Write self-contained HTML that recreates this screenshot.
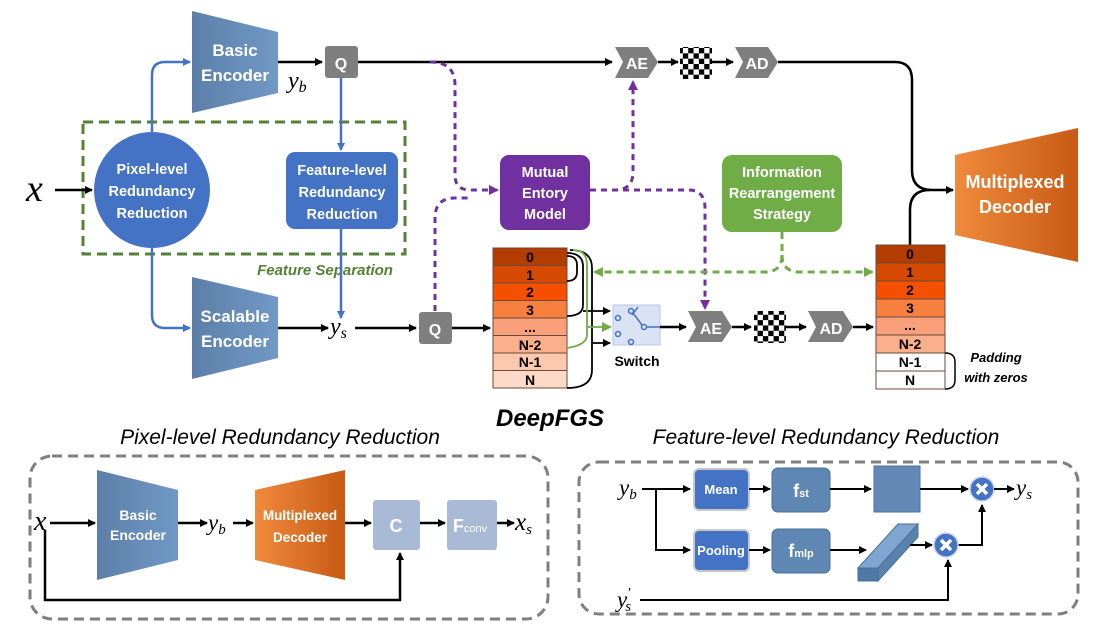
<!DOCTYPE html>
<html><head><meta charset="utf-8"><style>
html,body{margin:0;padding:0;background:#fff;}
svg{display:block;font-family:"Liberation Sans",sans-serif;}
.w{fill:#fff;font-weight:bold;text-anchor:middle;}
.m{font-family:"Liberation Serif",serif;font-style:italic;}
</style></head><body>
<svg width="1112" height="636" viewBox="0 0 1112 636" xmlns="http://www.w3.org/2000/svg">
<defs>
<marker id="ak" markerWidth="8" markerHeight="8" refX="7" refY="4" orient="auto" markerUnits="userSpaceOnUse"><path d="M0,0 L8,4 L0,8z" fill="#000"/></marker>
<marker id="ab" markerWidth="8" markerHeight="8" refX="7" refY="4" orient="auto" markerUnits="userSpaceOnUse"><path d="M0,0 L8,4 L0,8z" fill="#4472c4"/></marker>
<marker id="ap" markerWidth="10" markerHeight="10" refX="8" refY="5" orient="auto" markerUnits="userSpaceOnUse"><path d="M0,0 L10,5 L0,10z" fill="#7030a0"/></marker>
<marker id="ag" markerWidth="10" markerHeight="10" refX="8" refY="5" orient="auto" markerUnits="userSpaceOnUse"><path d="M0,0 L10,5 L0,10z" fill="#70ad47"/></marker>
<linearGradient id="enc" x1="0" x2="1"><stop offset="0" stop-color="#5b7fa8"/><stop offset="1" stop-color="#7199c6"/></linearGradient>
<linearGradient id="dec" x1="0" x2="1"><stop offset="0" stop-color="#f08a3c"/><stop offset="1" stop-color="#c85a14"/></linearGradient>
<pattern id="chk" width="10.67" height="10.67" patternUnits="userSpaceOnUse"><rect width="5.33" height="5.33" fill="#000"/><rect x="5.33" y="5.33" width="5.33" height="5.33" fill="#000"/></pattern>
</defs>

<rect x="83" y="122" width="322" height="132" fill="none" stroke="#548235" stroke-width="3" stroke-dasharray="10,6"/>
<text x="325" y="275" fill="#548235" font-size="15" font-weight="bold" font-style="italic" text-anchor="middle">Feature Separation</text>

<path d="M152,132 V75 Q152,62 165,62 H190" fill="none" stroke="#4472c4" stroke-width="2.5" marker-end="url(#ab)"/>
<path d="M152,248 V315 Q152,328 165,328 H190" fill="none" stroke="#4472c4" stroke-width="2.5" marker-end="url(#ab)"/>
<path d="M341,78 V150" fill="none" stroke="#4472c4" stroke-width="2.5" marker-end="url(#ab)"/>
<path d="M341,229 V318" fill="none" stroke="#4472c4" stroke-width="2.5" marker-end="url(#ab)"/>

<text x="26" y="201" class="m" font-size="38">x</text>
<path d="M55,190 H92" stroke="#000" stroke-width="2.5" marker-end="url(#ak)"/>
<circle cx="152" cy="190" r="58" fill="#4472c4"/>
<text class="w" font-size="14.5"><tspan x="152" y="174">Pixel-level</tspan><tspan x="152" y="196">Redundancy</tspan><tspan x="152" y="218">Reduction</tspan></text>
<rect x="286" y="152" width="112" height="77" rx="9" fill="#4472c4"/>
<text class="w" font-size="14.5"><tspan x="342" y="175">Feature-level</tspan><tspan x="342" y="197">Redundancy</tspan><tspan x="342" y="219">Reduction</tspan></text>

<polygon points="192,11 278,32 278,93 192,113" fill="url(#enc)"/>
<text class="w" font-size="17"><tspan x="235" y="56">Basic</tspan><tspan x="235" y="81">Encoder</tspan></text>
<polygon points="192,277 278,297 278,358 192,379" fill="url(#enc)"/>
<text class="w" font-size="17"><tspan x="235" y="322">Scalable</tspan><tspan x="235" y="347">Encoder</tspan></text>
<text x="288" y="88" class="m" font-size="24">y<tspan font-size="16" dy="4">b</tspan></text>
<path d="M278,62 H322" stroke="#000" stroke-width="2.5" marker-end="url(#ak)"/>
<rect x="325" y="46" width="33" height="32" rx="3" fill="#7f7f7f"/>
<text x="341" y="69" class="w" font-size="16">Q</text>

<path d="M278,328 H328" stroke="#000" stroke-width="2.5" marker-end="url(#ak)"/>
<text x="330" y="334" class="m" font-size="24">y<tspan font-size="16" dy="4">s</tspan></text>
<path d="M355,328 H416" stroke="#000" stroke-width="2.5" marker-end="url(#ak)"/>
<rect x="419" y="312" width="33" height="32" rx="3" fill="#7f7f7f"/>
<text x="435" y="335" class="w" font-size="16">Q</text>
<path d="M452,328 H490" stroke="#000" stroke-width="2.5" marker-end="url(#ak)"/>

<path d="M358,62 H612" stroke="#000" stroke-width="2.5" marker-end="url(#ak)"/>
<polygon points="615,47 648,47 658,62 648,78 615,78 623,62" fill="#7f7f7f"/>
<text x="637" y="69" class="w" font-size="16">AE</text>
<path d="M658,62 H678" stroke="#000" stroke-width="2.5" marker-end="url(#ak)"/>
<rect x="680" y="47" width="32" height="32" fill="url(#chk)"/>
<path d="M712,62 H733" stroke="#000" stroke-width="2.5" marker-end="url(#ak)"/>
<polygon points="735,47 768,47 778,62 768,78 735,78 743,62" fill="#7f7f7f"/>
<text x="757" y="69" class="w" font-size="16">AD</text>
<path d="M778,62 H895 Q912,62 912,80 V170 Q912,190 932,190 H953" fill="none" stroke="#000" stroke-width="2.5" marker-end="url(#ak)"/>
<path d="M910,245 V210 Q910,190 930,190" fill="none" stroke="#000" stroke-width="2.5"/>

<polygon points="955,155 1078,128 1078,262 955,235" fill="url(#dec)"/>
<text class="w" font-size="18"><tspan x="1015" y="188">Multiplexed</tspan><tspan x="1015" y="213">Decoder</tspan></text>

<path d="M430,62 Q455,62 455,85 V175 Q455,190 470,190 H497" fill="none" stroke="#7030a0" stroke-width="3" stroke-dasharray="6,5" marker-end="url(#ap)"/>
<path d="M435,311 V218 Q435,198 455,198 H470" fill="none" stroke="#7030a0" stroke-width="3" stroke-dasharray="6,5"/>
<path d="M590,190 H615 Q633,190 633,172 V82" fill="none" stroke="#7030a0" stroke-width="3" stroke-dasharray="6,5" marker-end="url(#ap)"/>
<path d="M590,190 H688 Q705,190 705,208 V308" fill="none" stroke="#7030a0" stroke-width="3" stroke-dasharray="6,5" marker-end="url(#ap)"/>
<rect x="500" y="155" width="90" height="75" rx="9" fill="#7030a0"/>
<text class="w" font-size="14.5"><tspan x="545" y="177">Mutual</tspan><tspan x="545" y="198">Entory</tspan><tspan x="545" y="219">Model</tspan></text>

<path d="M782,232 V255 Q782,272 765,272 H595" fill="none" stroke="#70ad47" stroke-width="3" stroke-dasharray="7,5" marker-end="url(#ag)"/>
<path d="M782,255 Q782,272 800,272 H872" fill="none" stroke="#70ad47" stroke-width="3" stroke-dasharray="7,5" marker-end="url(#ag)"/>
<rect x="722" y="155" width="120" height="77" rx="10" fill="#70ad47"/>
<text class="w" font-size="14.5"><tspan x="782" y="177">Information</tspan><tspan x="782" y="198">Rearrangement</tspan><tspan x="782" y="219">Strategy</tspan></text>

<g stroke="#6b4a3a" stroke-width="1">
<rect x="493" y="248" width="74" height="17.5" fill="#b33c00"/>
<rect x="493" y="265.5" width="74" height="17.5" fill="#d54a00"/>
<rect x="493" y="283" width="74" height="17.5" fill="#f55000"/>
<rect x="493" y="300.5" width="74" height="17.5" fill="#f8803e"/>
<rect x="493" y="318" width="74" height="17.5" fill="#f9a07a"/>
<rect x="493" y="335.5" width="74" height="17.5" fill="#fbb08b"/>
<rect x="493" y="353" width="74" height="17.5" fill="#fcc8ae"/>
<rect x="493" y="370.5" width="74" height="17.5" fill="#fdd9c8"/>
</g>
<g font-weight="bold" font-size="14" text-anchor="middle" fill="#000">
<text x="530" y="262">0</text><text x="530" y="280">1</text><text x="530" y="297">2</text><text x="530" y="315">3</text><text x="530" y="332">...</text><text x="530" y="350">N-2</text><text x="530" y="367">N-1</text><text x="530" y="385">N</text>
</g>
<g fill="none" stroke="#000" stroke-width="1.8">
<path d="M567,256 Q577,256 577,265 V272 Q577,281 567,281"/>
<path d="M567,253 Q582,253 583,265 V305 Q583,316 567,316"/>
<path d="M570,250 Q592,250 592,268 V370 Q592,388 567,388"/>
<path d="M583,311 H610" marker-end="url(#ak)"/>
<path d="M592,343 H610" marker-end="url(#ak)"/>
</g>
<path d="M573,250 Q587,250 587,265 V335 Q587,345 567,348" fill="none" stroke="#70ad47" stroke-width="1.8"/>
<path d="M587,327 H610" fill="none" stroke="#70ad47" stroke-width="1.8" marker-end="url(#ag)"/>

<rect x="613" y="305" width="47" height="40" fill="#dae3f3" stroke="#b4c7e7"/>
<g fill="none" stroke="#4472c4" stroke-width="1.5">
<circle cx="618" cy="318" r="2.5"/><circle cx="618" cy="334" r="2.5"/><circle cx="631" cy="311" r="2.5"/><circle cx="631" cy="342" r="2.5"/><circle cx="644" cy="327" r="2.5"/>
<path d="M633,313 L642,325 M646,327 H660 M632,315 L638,307"/>
</g>
<text x="637" y="366" font-size="14" font-weight="bold" text-anchor="middle">Switch</text>
<path d="M660,327 H686" stroke="#000" stroke-width="2.5" marker-end="url(#ak)"/>
<polygon points="688,311 722,311 732,327 722,342 688,342 696,327" fill="#7f7f7f"/>
<text x="711" y="334" class="w" font-size="16">AE</text>
<path d="M732,327 H751" stroke="#000" stroke-width="2.5" marker-end="url(#ak)"/>
<rect x="754" y="311" width="32" height="32" fill="url(#chk)"/>
<path d="M786,327 H806" stroke="#000" stroke-width="2.5" marker-end="url(#ak)"/>
<polygon points="808,311 843,311 853,327 843,342 808,342 816,327" fill="#7f7f7f"/>
<text x="831" y="334" class="w" font-size="16">AD</text>
<path d="M853,327 H873" stroke="#000" stroke-width="2.5" marker-end="url(#ak)"/>

<g stroke="#6b4a3a" stroke-width="1">
<rect x="876" y="245" width="69" height="18" fill="#b33c00"/>
<rect x="876" y="263" width="69" height="18" fill="#d54a00"/>
<rect x="876" y="281" width="69" height="18" fill="#f55000"/>
<rect x="876" y="299" width="69" height="18" fill="#f8803e"/>
<rect x="876" y="317" width="69" height="18" fill="#f9a07a"/>
<rect x="876" y="335" width="69" height="18" fill="#fbb08b"/>
<rect x="876" y="353" width="69" height="18" fill="#fff"/>
<rect x="876" y="371" width="69" height="18" fill="#fff"/>
</g>
<g font-weight="bold" font-size="14" text-anchor="middle">
<text x="910" y="259">0</text><text x="910" y="277">1</text><text x="910" y="295">2</text><text x="910" y="313">3</text><text x="910" y="330">...</text><text x="910" y="349">N-2</text><text x="910" y="367">N-1</text><text x="910" y="385">N</text>
</g>
<path d="M945,353 Q955,353 955,362 V380 Q955,389 945,389" fill="none" stroke="#000" stroke-width="1.5"/>
<text font-size="13" font-weight="bold" font-style="italic" text-anchor="middle"><tspan x="996" y="362">Padding</tspan><tspan x="996" y="382">with zeros</tspan></text>

<text x="550" y="426" font-size="24" font-weight="bold" font-style="italic" text-anchor="middle">DeepFGS</text>
<text x="280" y="444" font-size="21" font-style="italic" text-anchor="middle">Pixel-level Redundancy Reduction</text>
<text x="826" y="444" font-size="21" font-style="italic" text-anchor="middle">Feature-level Redundancy Reduction</text>

<rect x="30" y="456" width="518" height="163" rx="22" fill="none" stroke="#7f7f7f" stroke-width="3" stroke-dasharray="10,6"/>
<text x="34" y="530" class="m" font-size="28">x</text>
<path d="M50,523 H95" stroke="#000" stroke-width="2.5" marker-end="url(#ak)"/>
<path d="M45,530 V600 H400 V553" fill="none" stroke="#000" stroke-width="2.5" marker-end="url(#ak)"/>
<polygon points="97,470 178,490 178,560 97,580" fill="url(#enc)"/>
<text class="w" font-size="14"><tspan x="138" y="520">Basic</tspan><tspan x="138" y="540">Encoder</tspan></text>
<path d="M178,523 H207" stroke="#000" stroke-width="2.5" marker-end="url(#ak)"/>
<text x="208" y="530" class="m" font-size="23">y<tspan font-size="15" dy="4">b</tspan></text>
<path d="M233,523 H253" stroke="#000" stroke-width="2.5" marker-end="url(#ak)"/>
<polygon points="255,490 345,470 345,580 255,560" fill="url(#dec)"/>
<text class="w" font-size="13.5"><tspan x="300" y="520">Multiplexed</tspan><tspan x="300" y="542">Decoder</tspan></text>
<path d="M345,523 H371" stroke="#000" stroke-width="2.5" marker-end="url(#ak)"/>
<rect x="373" y="500" width="47" height="50" rx="3" fill="#a9bad6"/>
<text x="396" y="532" class="w" font-size="18">C</text>
<path d="M420,523 H445" stroke="#000" stroke-width="2.5" marker-end="url(#ak)"/>
<rect x="447" y="500" width="50" height="50" rx="3" fill="#a9bad6"/>
<text x="470" y="532" class="w" font-size="18">F<tspan font-size="11" font-weight="normal">conv</tspan></text>
<path d="M497,523 H514" stroke="#000" stroke-width="2.5" marker-end="url(#ak)"/>
<text x="515" y="530" class="m" font-size="25">x<tspan font-size="15" dy="4">s</tspan></text>

<rect x="579" y="462" width="499" height="152" rx="20" fill="none" stroke="#7f7f7f" stroke-width="3" stroke-dasharray="10,6"/>
<text x="619" y="495" class="m" font-size="23">y<tspan font-size="15" dy="4">b</tspan></text>
<path d="M642,489 H690" stroke="#000" stroke-width="2" marker-end="url(#ak)"/>
<path d="M656,489 V550 H690" fill="none" stroke="#000" stroke-width="2" marker-end="url(#ak)"/>
<rect x="694" y="469" width="55" height="41" rx="5" fill="#4472c4" stroke="#c8c8c8" stroke-width="2"/>
<text x="721" y="494" class="w" font-size="13">Mean</text>
<rect x="694" y="530" width="55" height="41" rx="5" fill="#4472c4" stroke="#c8c8c8" stroke-width="2"/>
<text x="721" y="555" class="w" font-size="13">Pooling</text>
<path d="M749,489 H770" stroke="#000" stroke-width="2" marker-end="url(#ak)"/>
<path d="M749,550 H770" stroke="#000" stroke-width="2" marker-end="url(#ak)"/>
<rect x="772" y="468" width="58" height="44" rx="6" fill="#5f87b3" stroke="#4a6f99"/>
<text x="801" y="497" class="w" font-size="18">f<tspan font-size="11">st</tspan></text>
<rect x="772" y="529" width="58" height="44" rx="6" fill="#5f87b3" stroke="#4a6f99"/>
<text x="801" y="557" class="w" font-size="18">f<tspan font-size="11">mlp</tspan></text>
<path d="M830,489 H871" stroke="#000" stroke-width="2" marker-end="url(#ak)"/>
<path d="M830,550 H866" stroke="#000" stroke-width="2" marker-end="url(#ak)"/>
<rect x="874" y="466" width="46" height="46" fill="#6289b5" stroke="#4a6f99"/>
<polygon points="858,568 898,524 918,524 878,568" fill="#7fa5d1" stroke="#4a6f99"/>
<polygon points="878,568 918,524 918,537 878,581" fill="#5a82ae" stroke="#4a6f99"/>
<rect x="858" y="568" width="20" height="13" fill="#4f79a6" stroke="#4a6f99"/>
<path d="M920,489 H968" stroke="#000" stroke-width="2" marker-end="url(#ak)"/>
<path d="M910,545 H932" stroke="#000" stroke-width="2" marker-end="url(#ak)"/>
<path d="M958,545 H982 V505" fill="none" stroke="#000" stroke-width="2" marker-end="url(#ak)"/>
<path d="M640,600 H948 V560" fill="none" stroke="#000" stroke-width="2" marker-end="url(#ak)"/>
<g><circle cx="982" cy="489" r="12" fill="#4472c4" stroke="#c8d4ec" stroke-width="1.5"/><path d="M977,484 L987,494 M987,484 L977,494" stroke="#fff" stroke-width="3.5"/></g>
<g><circle cx="946" cy="545" r="12" fill="#4472c4" stroke="#c8d4ec" stroke-width="1.5"/><path d="M941,540 L951,550 M951,540 L941,550" stroke="#fff" stroke-width="3.5"/></g>
<path d="M994,489 H1014" stroke="#000" stroke-width="2" marker-end="url(#ak)"/>
<text x="1016" y="495" class="m" font-size="23">y<tspan font-size="15" dy="4">s</tspan></text>
<text x="617" y="607" class="m" font-size="23">y<tspan font-size="14" dy="-10">′</tspan><tspan font-size="15" dx="-5" dy="14">s</tspan></text>
</svg>
</body></html>
